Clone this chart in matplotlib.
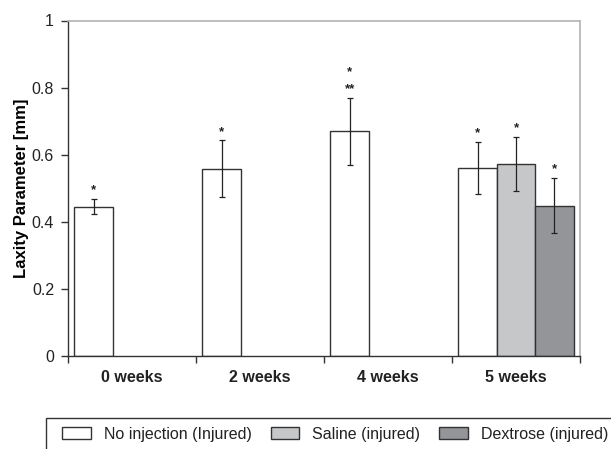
import matplotlib.pyplot as plt
import numpy as np
from matplotlib.patches import Rectangle

categories = ['0 weeks', '2 weeks', '4 weeks', '5 weeks']

no_inj = [0.445, 0.558, 0.670, 0.561]
no_inj_err = [0.023, 0.085, 0.100, 0.077]
no_inj_stars = ['*', '*', '*\n**', '*']

saline = [0.572]
saline_err = [0.081]
saline_stars = ['*']

dextrose = [0.448]
dextrose_err = [0.082]
dextrose_stars = ['*']

plt.rcParams['font.family'] = ['Liberation Sans', 'DejaVu Sans']
plt.rcParams['font.size'] = 11.5
plt.rcParams['text.color'] = '#222222'

W, H = 611, 449
fig = plt.figure(figsize=(W / 100, H / 100), dpi=100)
ax = fig.add_axes([68 / W, 1 - 356 / H, 512 / W, 335.5 / H])

width = 0.3
edge = '#333333'
x = np.arange(len(categories))

def bars(xpos, vals, errs, stars, color, label):
    ax.bar(xpos, vals, width, color=color, edgecolor=edge, linewidth=1.0,
           label=label, zorder=2)
    ax.errorbar(xpos, vals, yerr=errs, fmt='none', ecolor='#222222',
                elinewidth=0.9, capsize=2.5, capthick=0.9, zorder=3)
    for xi, v, e, s in zip(xpos, vals, errs, stars):
        ax.annotate(s, (xi, v + e), xytext=(0, 4), textcoords='offset points',
                    ha='center', va='baseline', fontsize=9.5, fontweight='bold',
                    linespacing=1.5)

bars(x - width, no_inj, no_inj_err, no_inj_stars, 'white', 'No injection (Injured)')
bars(x[3:], saline, saline_err, saline_stars, '#c6c7c9', 'Saline (injured)')
bars(x[3:] + width, dextrose, dextrose_err, dextrose_stars, '#939598', 'Dextrose (injured)')

ax.set_xlim(-0.5, 3.5)
ax.set_ylim(0, 1)
ax.set_yticks([0, 0.2, 0.4, 0.6, 0.8, 1])
ax.set_yticklabels(['0', '0.2', '0.4', '0.6', '0.8', '1'])
ax.set_xticks(np.arange(-0.5, 4, 1))
ax.set_xticklabels([])
ax.set_xticks(x, minor=True)
ax.set_xticklabels(categories, minor=True, fontweight='bold')
ax.tick_params(axis='x', which='minor', length=0, pad=10, labelcolor='#222222')
ax.tick_params(axis='x', which='major', length=5, width=1, color=edge)
ax.tick_params(axis='y', length=5, width=1, color=edge, pad=5, labelcolor='#222222')

ax.set_ylabel('Laxity Parameter [mm]', fontweight='bold', fontsize=12)
ax.yaxis.set_label_coords(-0.076, 0.5)

for s in ['left', 'bottom']:
    ax.spines[s].set_color(edge)
    ax.spines[s].set_linewidth(1.0)
for s in ['top', 'right']:
    ax.spines[s].set_color('#b3b3b3')
    ax.spines[s].set_linewidth(1.2)

# legend frame runs off the bottom and right of the picture
fig.patches.append(Rectangle((46 / W, -0.05), 0.99, 1 - 418 / H + 0.05,
                             transform=fig.transFigure, fill=False,
                             edgecolor=edge, linewidth=1.0))
handles, labels = ax.get_legend_handles_labels()
fig.legend(handles, labels, loc='center left', ncol=3, frameon=False,
           bbox_to_anchor=(62 / W, 1 - 434 / H), borderpad=0, borderaxespad=0,
           handlelength=1.8, handleheight=0.75, handletextpad=0.8,
           columnspacing=1.2, fontsize=11.5)

fig.savefig('out.png', dpi=100)
